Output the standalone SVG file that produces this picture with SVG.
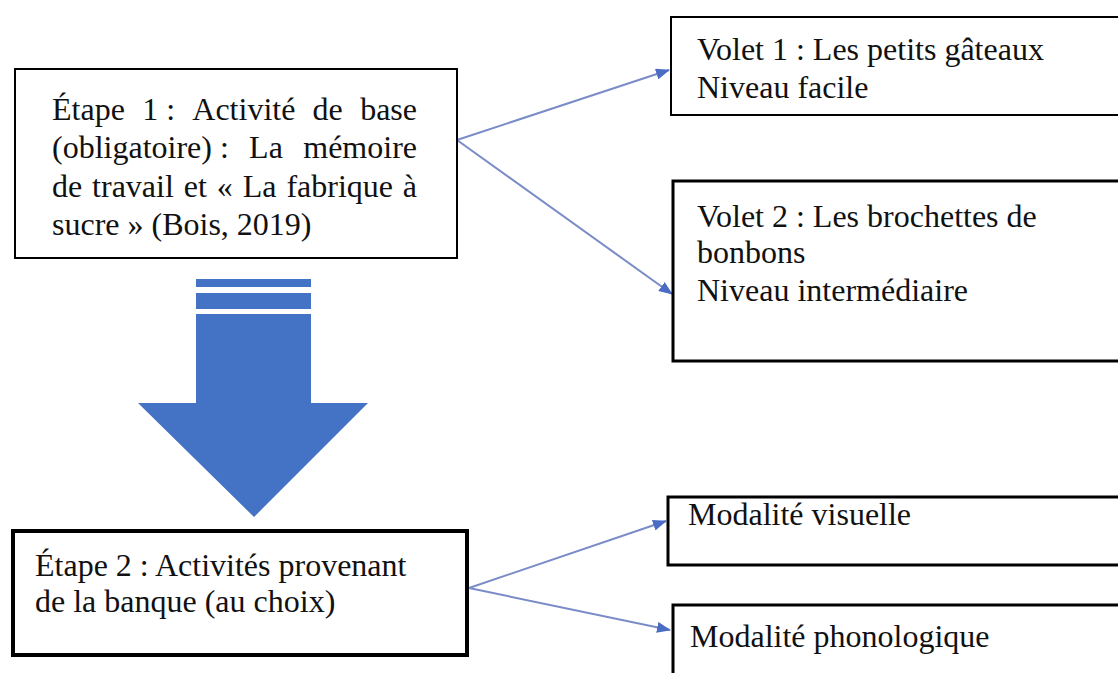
<svg xmlns="http://www.w3.org/2000/svg" width="1118" height="673" viewBox="0 0 1118 673">
  <style>
    .t { font-family: "Liberation Serif", "Times New Roman", serif; font-size: 32px; fill: #111; }
    .box { fill: #fff; stroke: #000; }
    .link { fill: none; stroke: #7a8cc8; stroke-width: 2; marker-end: url(#head); }
  </style>
  <defs>
    <marker id="head" viewBox="0 0 14 11" refX="13" refY="5.5" markerWidth="14" markerHeight="11" markerUnits="userSpaceOnUse" orient="auto">
      <path d="M0,0 L14,5.5 L0,11 Z" fill="#4a6cc4"/>
    </marker>
  </defs>
  <rect width="1118" height="673" fill="#fff"/>

  <!-- connectors -->
  <g id="connectors">
    <line class="link" x1="457" y1="140" x2="669" y2="70"/>
    <line class="link" x1="457" y1="140" x2="672" y2="294"/>
    <line class="link" x1="469" y1="588" x2="666" y2="521"/>
    <line class="link" x1="469" y1="588" x2="670" y2="630"/>
  </g>

  <!-- big downward arrow between the two stages -->
  <g id="step-arrow" fill="#4472c4">
    <rect x="196" y="279" width="115" height="8"/>
    <rect x="196" y="293" width="115" height="16"/>
    <path d="M196,314 H311 V403 H368 L254,517 L138,403 H196 Z"/>
  </g>

  <g id="etape1">
    <rect class="box" x="15" y="69" width="442" height="189" stroke="#333" stroke-width="2"/>
    <text class="t" y="120"><tspan x="52">Étape</tspan><tspan x="142.2">1 :</tspan><tspan x="192.3">Activité</tspan><tspan x="312.6">de</tspan><tspan x="417" text-anchor="end">base</tspan></text>
    <text class="t" y="158"><tspan x="52">(obligatoire) :</tspan><tspan x="249.1">La</tspan><tspan x="417" text-anchor="end">mémoire</tspan></text>
    <text class="t" y="197"><tspan x="52">de</tspan><tspan x="92.1">travail</tspan><tspan x="183.8">et</tspan><tspan x="216.8">«</tspan><tspan x="242.7">La</tspan><tspan x="286.4">fabrique</tspan><tspan x="417" text-anchor="end">à</tspan></text>
    <text class="t" x="52" y="235">sucre » (Bois, 2019)</text>
  </g>

  <g id="volet1">
    <rect class="box" x="671" y="17" width="460" height="98" stroke="#222" stroke-width="2"/>
    <text class="t" x="697" y="60">Volet 1 : Les petits gâteaux</text>
    <text class="t" x="697" y="98">Niveau facile</text>
  </g>

  <g id="volet2">
    <rect class="box" x="673" y="181" width="460" height="180" stroke-width="3"/>
    <text class="t" x="697" y="227">Volet 2 : Les brochettes de</text>
    <text class="t" x="697" y="263">bonbons</text>
    <text class="t" x="697" y="301">Niveau intermédiaire</text>
  </g>

  <g id="etape2">
    <rect class="box" x="13" y="531" width="454" height="124" stroke-width="4"/>
    <text class="t" x="35" y="576">Étape 2 : Activités provenant</text>
    <text class="t" x="35" y="612">de la banque (au choix)</text>
  </g>

  <g id="visuelle">
    <rect class="box" x="668" y="497" width="465" height="68" stroke-width="3"/>
    <text class="t" x="688" y="525">Modalité visuelle</text>
  </g>

  <g id="phonologique">
    <rect class="box" x="673" y="605" width="460" height="90" stroke-width="3"/>
    <text class="t" x="690" y="647">Modalité phonologique</text>
  </g>
</svg>
